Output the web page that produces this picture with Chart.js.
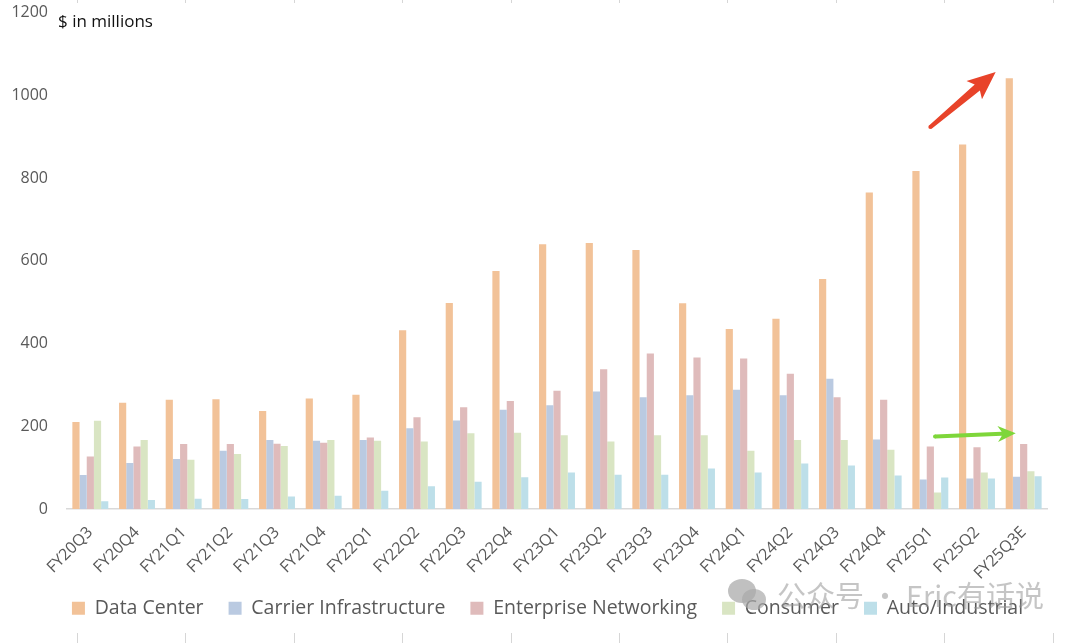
<!DOCTYPE html>
<html>
<head>
<meta charset="utf-8">
<script src="https://cdn.jsdelivr.net/npm/chart.js@4.4.1/dist/chart.umd.min.js"></script>
<style>
  html, body { margin: 0; padding: 0; background: #fff; }
  #wrap { position: relative; width: 1080px; height: 643px; }
  #unit { position: absolute; left: 58px; top: 9px; font: 17px "Open Sans", sans-serif; color: #111; }
  #mark { position: absolute; left: 728px; top: 575px; height: 38px; display: flex; align-items: center;
          font: 29px "Noto Sans CJK SC", sans-serif; color: rgba(150,150,150,0.55); pointer-events: none; white-space: pre; }
  #mark .ico { position: relative; width: 44px; height: 34px; margin-right: 5px; }
  #mark .ico span { position: absolute; border-radius: 50%; background: rgba(150,150,150,0.6); }
</style>
</head>
<body>
<div id="wrap">
  <canvas id="chart" width="1080" height="643"></canvas>
  <div id="unit">$ in millions</div>
  <div id="mark">
    <div class="ico"><span style="left:0;top:2px;width:28px;height:24px"></span><span style="left:14px;top:12px;width:24px;height:21px;background:rgba(170,170,170,0.7)"></span></div>公众号 · Eric有话说</div>
</div>
<script>
const quarters = ["FY20Q3", "FY20Q4", "FY21Q1", "FY21Q2", "FY21Q3", "FY21Q4", "FY22Q1", "FY22Q2", "FY22Q3", "FY22Q4",
    "FY23Q1", "FY23Q2", "FY23Q3", "FY23Q4", "FY24Q1", "FY24Q2", "FY24Q3", "FY24Q4", "FY25Q1", "FY25Q2", "FY25Q3E"];

const dataCenter = [210, 257, 264, 265, 237, 267, 276, 432, 498, 575, 640, 643, 626, 497, 435, 460, 556, 765, 817, 881, 1041];
const carrierInfra = [82, 111, 121, 141, 167, 165, 167, 195, 214, 240, 251, 284, 270, 275, 288, 275, 315, 168, 71, 74, 78];
const enterpriseNet = [127, 151, 157, 157, 158, 160, 173, 222, 246, 261, 286, 338, 376, 366, 364, 327, 270, 264, 151, 149, 157];
const consumer = [213, 167, 119, 133, 152, 167, 165, 163, 183, 184, 178, 163, 178, 178, 141, 167, 167, 143, 40, 88, 91];
const autoIndustrial = [19, 22, 25, 24, 30, 32, 44, 55, 66, 77, 88, 83, 83, 98, 88, 110, 105, 81, 76, 74, 79];

const yTicks = [0, 200, 400, 600, 800, 1000, 1200];

// arrows: [category index, value] for tail and tip
const redArrow = { from: [18.0, 923], to: [19.4, 1056] };
const greenArrow = { from: [18.1, 175], to: [19.83, 183] };

const gray = "#595959";
const font = "'Open Sans', sans-serif";

function drawArrow(ctx, x0, y0, x1, y1, w0, w1, headLen, headHalf, color) {
    const dx = x1 - x0, dy = y1 - y0;
    const len = Math.sqrt(dx * dx + dy * dy);
    const ux = dx / len, uy = dy / len;
    const nx = -uy, ny = ux;
    const bx = x1 - ux * headLen, by = y1 - uy * headLen;
    ctx.save();
    ctx.fillStyle = color;
    ctx.beginPath();
    ctx.moveTo(x0 + nx * w0 / 2, y0 + ny * w0 / 2);
    ctx.lineTo(bx + nx * w1 / 2, by + ny * w1 / 2);
    ctx.lineTo(bx + nx * headHalf - ux * 4, by + ny * headHalf - uy * 4);
    ctx.lineTo(x1, y1);
    ctx.lineTo(bx - nx * headHalf - ux * 4, by - ny * headHalf - uy * 4);
    ctx.lineTo(bx - nx * w1 / 2, by - ny * w1 / 2);
    ctx.lineTo(x0 - nx * w0 / 2, y0 - ny * w0 / 2);
    ctx.closePath();
    ctx.fill();
    ctx.beginPath();
    ctx.arc(x0, y0, w0 / 2, 0, Math.PI * 2);
    ctx.fill();
    ctx.restore();
}

const extras = {
    id: "extras",
    afterLayout(chart) {
        // legend sits a bit right of the plot centre and overlaps the label area in the original
        chart.legend.left += 24;
        chart.legend.right += 24;
        chart.legend.top -= 13;
        chart.legend.bottom -= 13;
    },
    afterDraw(chart) {
        const ctx = chart.ctx;
        const xs = chart.scales.x, ys = chart.scales.y;

        const r = redArrow;
        drawArrow(ctx, xs.getPixelForValue(r.from[0]), ys.getPixelForValue(r.from[1]),
            xs.getPixelForValue(r.to[0]), ys.getPixelForValue(r.to[1]), 4, 8, 24, 12, "#E8432A");
        const g = greenArrow;
        drawArrow(ctx, xs.getPixelForValue(g.from[0]), ys.getPixelForValue(g.from[1]),
            xs.getPixelForValue(g.to[0]), ys.getPixelForValue(g.to[1]), 4, 4, 14, 8, "#7ED63A");

        // faint frame ticks at the top and bottom edge
        ctx.save();
        ctx.strokeStyle = "#d6d6d6";
        ctx.lineWidth = 1;
        for (let k = 0; k < 10; k++) {
            const x = Math.round(77 + k * 108.4) + 0.5;
            ctx.beginPath();
            ctx.moveTo(x, 0); ctx.lineTo(x, 3);
            ctx.moveTo(x, 633); ctx.lineTo(x, 643);
            ctx.stroke();
        }
        ctx.restore();
    }
};

const ctx = document.getElementById("chart").getContext("2d");
const myChart = new Chart(ctx, {
    type: "bar",
    data: {
        labels: quarters,
        datasets: [
            { label: "Data Center", data: dataCenter, backgroundColor: "#F2C298" },
            { label: "Carrier Infrastructure", data: carrierInfra, backgroundColor: "#BACAE1" },
            { label: "Enterprise Networking", data: enterpriseNet, backgroundColor: "#DFBBBB" },
            { label: "Consumer", data: consumer, backgroundColor: "#D9E5C3" },
            { label: "Auto/Industrial", data: autoIndustrial, backgroundColor: "#BDDFE9" }
        ]
    },
    options: {
        responsive: false,
        animation: false,
        layout: { padding: { top: 12.5, right: 33, bottom: 2, left: 0 } },
        datasets: { bar: { barPercentage: 1, categoryPercentage: 0.77 } },
        scales: {
            x: {
                grid: { display: false, drawTicks: false },
                border: { display: true, color: "#d9d9d9", width: 1.5 },
                ticks: {
                    color: gray, font: { family: font, size: 16 },
                    maxRotation: 45, minRotation: 45, autoSkip: false, padding: 14
                },
                afterFit(scale) { scale.height = 77.5; scale.paddingLeft = 0; scale.paddingRight = 0; }
            },
            y: {
                min: 0, max: 1200,
                grid: { display: false, drawTicks: false },
                border: { display: false },
                afterBuildTicks(scale) { scale.ticks = yTicks.map(v => ({ value: v })); },
                ticks: { color: gray, font: { family: font, size: 16 }, padding: 19, callback: v => String(v) },
                afterFit(scale) { scale.width = 67; scale.paddingTop = 0; scale.paddingBottom = 0; }
            }
        },
        plugins: {
            legend: {
                position: "bottom",
                labels: {
                    color: gray, font: { family: font, size: 19.5 },
                    boxWidth: 13, boxHeight: 13, padding: 25
                }
            },
            tooltip: { enabled: false }
        }
    },
    plugins: [extras]
});
</script>
</body>
</html>
